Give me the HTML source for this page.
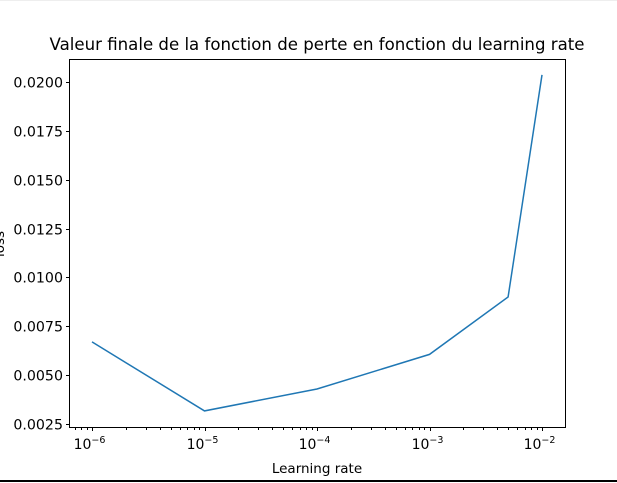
<!DOCTYPE html>
<html><head><meta charset="utf-8"><style>
body{margin:0;background:#fff;}
svg{display:block;font-family:"DejaVu Sans","Liberation Sans",sans-serif;}
</style></head><body>
<svg id="chart" width="617" height="483">
<rect x="0" y="0" width="617" height="1" fill="#eeeeee"/>
<rect x="0" y="480" width="617" height="2" fill="#000"/>
<text x="317" y="50" text-anchor="middle" font-size="16.6">Valeur finale de la fonction de perte en fonction du learning rate</text>
<g id="grid"></g>
<rect x="69.5" y="59.5" width="496" height="368" fill="none" stroke="#000" stroke-width="1"/>
<text x="317" y="473" text-anchor="middle" font-size="13.5">Learning rate</text>
<text transform="translate(4,244) rotate(-90)" text-anchor="middle" font-size="13.5">loss</text>
</svg>
<script>
const lrValues = [1e-6, 1e-5, 1e-4, 1e-3, 5e-3, 1e-2];
const lossValues = [0.00670, 0.00317, 0.00429, 0.00606, 0.00900, 0.02036];
const yTicks = [0.0025, 0.0050, 0.0075, 0.0100, 0.0125, 0.0150, 0.0175, 0.0200];
const yTickLabels = ["0.0025","0.0050","0.0075","0.0100","0.0125","0.0150","0.0175","0.0200"];
const xDecades = [-6, -5, -4, -3, -2];

const NS = "http://www.w3.org/2000/svg";
const g = document.getElementById('grid');
function xs(v){ return 92 + (Math.log10(v) + 6) * 112.5; }
function ys(v){ return 424 - (v - 0.0025) / 0.0025 * 48.86; }
function mk(tag, attrs){ const e = document.createElementNS(NS, tag); for (const k in attrs) e.setAttribute(k, attrs[k]); g.appendChild(e); return e; }

yTicks.forEach((t, i) => {
  const y = Math.round(ys(t)) + 0.5;
  const l = mk('line', {x1: 66, x2: 69.5, y1: y, y2: y, stroke: '#000'});
  
  
  const tx = mk('text', {x: 63, y: y + 5, 'text-anchor': 'end', 'font-size': 14.2});
  tx.textContent = yTickLabels[i];
  
  
});

xDecades.forEach(d => {
  const x = Math.round(xs(Math.pow(10, d))) + 0.5;
  const l = mk('line', {x1: x, x2: x, y1: 427.5, y2: 431, stroke: '#000'});
  
  
  const tx = mk('text', {x: x - 3, y: 449, 'text-anchor': 'middle', 'font-size': 14});
  tx.innerHTML = '10<tspan dy="-6" font-size="9.5">\u2212' + (-d) + '</tspan>';
  
  
});
for (let d = -7; d <= -2; d++) {
  for (let m = 2; m <= 9; m++) {
    const x = xs(m * Math.pow(10, d));
    if (x < 70 || x > 565) continue;
    const l = mk('line', {x1: Math.round(x) + 0.5, x2: Math.round(x) + 0.5, y1: 427.5, y2: 430, stroke: '#000'});
    
    
  }
}

const pts = lrValues.map((v, i) => xs(v).toFixed(1) + ',' + ys(lossValues[i]).toFixed(1)).join(' ');
const line = mk('polyline', {points: pts, fill: 'none', stroke: '#1f77b4', 'stroke-width': 1.5});


</script>
</body></html>
